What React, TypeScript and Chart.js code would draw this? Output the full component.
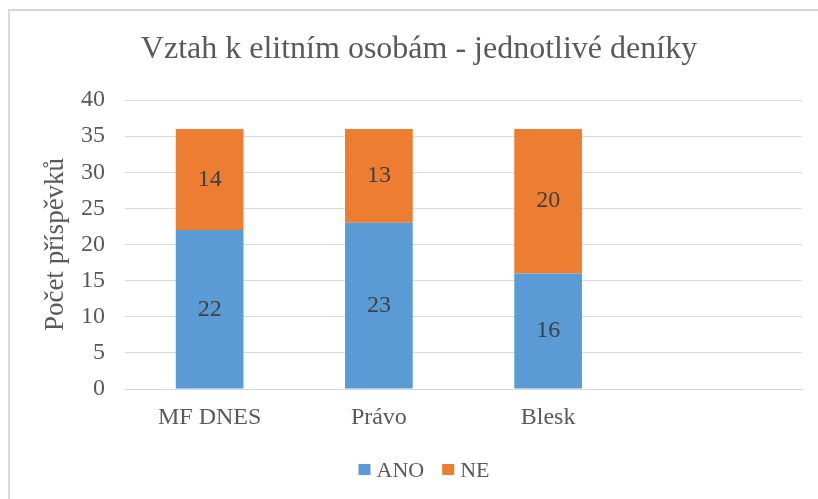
import React, { useEffect, useRef } from "react";
import { Chart, registerables } from "chart.js";

Chart.register(...registerables);

const categories = ["MF DNES", "Právo", "Blesk", ""];
const anoValues = [22, 23, 16, null];
const neValues = [14, 13, 20, null];
const seriesNames = ["ANO", "NE"];
const seriesColors = ["#5B9BD5", "#ED7D31"];
const yTicksMax = 40;
const yTicksStep = 5;

const FONT = "'Liberation Serif', 'Times New Roman', serif";

const dataLabelPlugin = {
  id: "dataLabels",
  afterDatasetsDraw(chart: any) {
    const ctx = chart.ctx;
    ctx.save();
    ctx.font = `24px ${FONT}`;
    ctx.fillStyle = "#404040";
    ctx.textAlign = "center";
    ctx.textBaseline = "middle";
    chart.data.datasets.forEach((ds: any, di: number) => {
      const meta = chart.getDatasetMeta(di);
      meta.data.forEach((bar: any, i: number) => {
        const v = ds.data[i];
        if (v == null) return;
        const y = (bar.y + bar.base) / 2;
        ctx.fillText(String(v), bar.x, y);
      });
    });
    ctx.restore();
  },
};

const legendPlugin = {
  id: "customLegend",
  afterDraw(chart: any) {
    const ctx = chart.ctx;
    ctx.save();
    ctx.font = `22px ${FONT}`;
    const box = 12;
    const gapText = 6;
    const gapItem = 18;
    const items = chart.data.datasets.map((ds: any) => ({
      label: ds.label,
      color: ds.backgroundColor,
      w: ctx.measureText(ds.label).width,
    }));
    const total =
      items.reduce((s: number, it: any) => s + box + gapText + it.w, 0) + gapItem * (items.length - 1);
    let x = 424 - total / 2;
    const cy = 470;
    ctx.textBaseline = "middle";
    ctx.textAlign = "left";
    items.forEach((it: any) => {
      ctx.fillStyle = it.color;
      ctx.fillRect(x, cy - 6, box, box - 1);
      ctx.fillStyle = "#595959";
      ctx.fillText(it.label, x + box + gapText, cy + 1);
      x += box + gapText + it.w + gapItem;
    });
    ctx.restore();
  },
};

export default function App() {
  const ref = useRef<HTMLCanvasElement | null>(null);
  useEffect(() => {
    document.body.style.margin = "0";
    const chart = new Chart(ref.current as HTMLCanvasElement, {
      type: "bar",
      data: {
        labels: categories,
        datasets: [
          { label: seriesNames[0], data: anoValues as any, backgroundColor: seriesColors[0] },
          { label: seriesNames[1], data: neValues as any, backgroundColor: seriesColors[1] },
        ],
      },
      options: {
        animation: false,
        responsive: false,
        maintainAspectRatio: false,
        layout: { padding: { left: 36, right: 16, top: 0, bottom: 60 } },
        datasets: { bar: { barPercentage: 0.4, categoryPercentage: 1 } },
        plugins: {
          title: {
            display: true,
            text: "Vztah k elitním osobám - jednotlivé deníky",
            color: "#595959",
            font: { family: FONT, size: 32, weight: "normal" as any },
            padding: { top: 30, bottom: 31.6 },
          },
          legend: { display: false },
          tooltip: { enabled: false },
        },
        scales: {
          x: {
            stacked: true,
            grid: { display: false, drawTicks: false },
            border: { color: "#d9d9d9", width: 1 },
            afterFit: (s: any) => {
              s.height = 50;
            },
            ticks: {
              color: "#595959",
              font: { family: FONT, size: 24 },
              padding: 14,
            },
          },
          y: {
            stacked: true,
            min: 0,
            max: yTicksMax,
            afterFit: (s: any) => {
              s.width = 89;
            },
            ticks: {
              stepSize: yTicksStep,
              color: "#595959",
              font: { family: FONT, size: 24 },
              padding: 20,
            },
            grid: { color: "#d9d9d9", drawTicks: false },
            border: { display: false },
            title: {
              display: true,
              text: "Počet příspěvků",
              color: "#595959",
              font: { family: FONT, size: 27 },
              padding: 4,
            },
          },
        },
      },
      plugins: [dataLabelPlugin, legendPlugin],
    });
    return () => chart.destroy();
  }, []);
  return (
    <div style={{ position: "relative", width: 818, height: 499, overflow: "hidden", background: "#fff" }}>
      <div
        style={{
          position: "absolute",
          left: 8,
          top: 9,
          width: 830,
          height: 510,
          border: "2px solid #d9d9d9",
          boxSizing: "border-box",
        }}
      />
      <canvas ref={ref} width={818} height={499} style={{ position: "absolute", left: 0, top: 0 }} />
    </div>
  );
}
